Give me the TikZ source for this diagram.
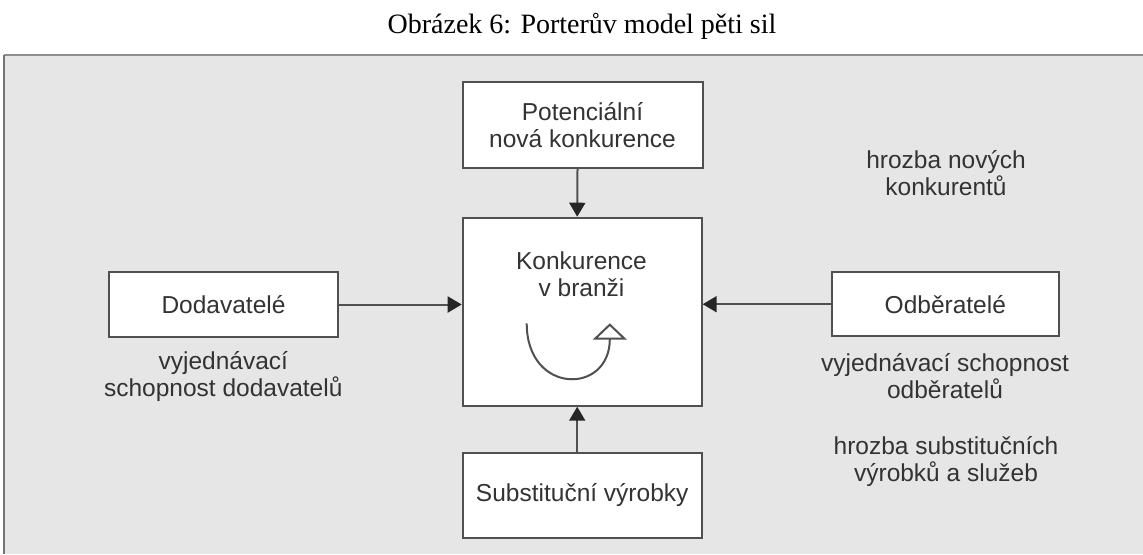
\documentclass[tikz,border=0pt]{standalone}
\usepackage{fontspec}
\setmainfont{Liberation Sans}
\newfontfamily\titlefont{Liberation Serif}
\usetikzlibrary{arrows.meta}
\definecolor{framefill}{HTML}{E6E6E6}
\definecolor{frameline}{HTML}{8F8F8F}
\definecolor{boxline}{HTML}{505050}
\definecolor{txt}{HTML}{333333}
\tikzset{
  forcebox/.style={draw=boxline, line width=1pt, fill=white, align=center,
    font=\fontsize{12.25pt}{13.5pt}\selectfont, text=txt, inner sep=0pt},
  lbl/.style={align=center, font=\fontsize{12.25pt}{13.5pt}\selectfont, text=txt, inner sep=0pt},
  arr/.style={draw=boxline, line width=1pt, -{Triangle[length=7pt,width=8pt,color=black!85,fill=black!85]}},
}
\begin{document}
\begin{tikzpicture}[x=0.5pt,y=-0.5pt]
\useasboundingbox (0,0) rectangle (1143,554);
\fill[white] (0,0) rectangle (1143,554);
% frame
\fill[framefill] (4,55) rectangle (1143,554);
\draw[frameline, line width=1.4pt] (4,55) -- (1143,55);
\draw[boxline!80, line width=0.9pt] (4,55) -- (4,554);
% title
\node[anchor=base, inner sep=0pt, font=\titlefont\fontsize{14pt}{17pt}\selectfont] (title) at (582,33.3) {Obrázek 6: Porterův model pěti sil};
% boxes
\node[forcebox, minimum width=120pt, minimum height=43pt] (nTop) at (582.5,125) {Potenciální\\nová konkurence};
\node[forcebox, minimum width=119.5pt, minimum height=94pt] (nMid) at (582.2,311.7) {};
\node[forcebox, minimum width=114.2pt, minimum height=32.2pt] (nLeft) at (223.5,304.5) {Dodavatelé};
\node[forcebox, minimum width=113.7pt, minimum height=31.9pt] (nRight) at (945.3,304.2) {Odběratelé};
\node[forcebox, minimum width=119.5pt, minimum height=42.8pt] (nBot) at (582.2,495.5) {Substituční výrobky};
\node[lbl] (midtxt) at (581.5,274) {Konkurence\\v branži};
% curved arrow inside
\coordinate (cs) at (526.7,323.3);
\coordinate (ce) at (609.8,323.3);
\draw[boxline, line width=1pt, -{Triangle[open,length=8.2pt,width=17pt,fill=white]}]
  (cs) .. controls (526.7,395) and (609.8,395) .. (ce);
% connectors
\draw[arr] ([xshift=-2.5pt]nTop.south) -- ([xshift=-2.5pt]nMid.north);
\draw[arr] ([xshift=-2.5pt]nBot.north) -- ([xshift=-2.5pt]nMid.south);
\draw[arr] (nLeft.east) -- (nMid.west |- nLeft.east);
\draw[arr] (nRight.west) -- (nMid.east |- nRight.west);
% labels
\node[lbl] (l1) at (946,173.3) {hrozba nových\\konkurentů};
\node[lbl] (l2) at (223.3,376.5) {vyjednávací\\schopnost dodavatelů};
\node[lbl] (l3) at (945,376.5) {vyjednávací schopnost\\odběratelů};
\node[lbl] (l4) at (946,461.7) {hrozba substitučních\\výrobků a služeb};
\end{tikzpicture}
\end{document}
